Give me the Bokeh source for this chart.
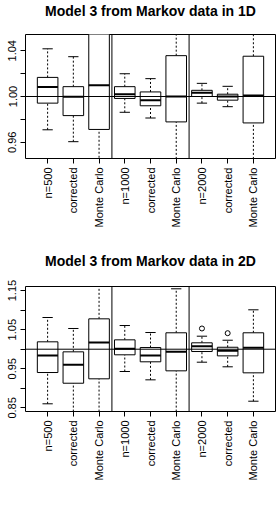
from bokeh.plotting import figure
from bokeh.layouts import column
from bokeh.models import Range1d, FixedTicker, Span, ColumnDataSource, Title
from bokeh.embed import file_html
from bokeh.resources import INLINE

labels = ["n=500", "corrected", "Monte Carlo", "n=1000", "corrected", "Monte Carlo",
          "n=2000", "corrected", "Monte Carlo"]
positions = [1, 2, 3, 4, 5, 6, 7, 8, 9]
separators = [3.5, 6.5]
ref_value = 1.0

# Panel 1: 1D
title1 = "Model 3 from Markov data in 1D"
lo1 = [0.9709, 0.9605, 0.88, 0.9862, 0.9812, 0.90, 0.9942, 0.9911, 0.90]
q1_1 = [0.9942, 0.9833, 0.9712, 0.9983, 0.9919, 0.9778, 1.0000, 0.9968, 0.9769]
med1 = [1.0084, 0.9997, 1.0098, 1.0020, 0.9968, 1.0000, 1.0032, 1.0000, 1.0009]
q3_1 = [1.0167, 1.0086, 1.065, 1.0086, 1.0040, 1.0357, 1.0054, 1.0020, 1.0352]
hi1 = [1.0417, 1.0348, 1.12, 1.0199, 1.0156, 1.10, 1.0115, 1.0089, 1.10]
out1_x = []
out1_y = []
yticks1 = [0.96, 0.98, 1.00, 1.02, 1.04]
ylabels1 = ["0.96", "", "1.00", "", "1.04"]
yrange1 = (0.9458, 1.0542)

# Panel 2: 2D
title2 = "Model 3 from Markov data in 2D"
lo2 = [0.8604, 0.82, 0.82, 0.9430, 0.9217, 0.82, 0.9668, 0.9550, 0.8670]
q1_2 = [0.9404, 0.9130, 0.9243, 0.9857, 0.9678, 0.9447, 0.9941, 0.9830, 0.9396]
med2 = [0.9839, 0.9600, 1.0171, 1.0010, 0.9839, 0.9933, 1.0077, 0.9959, 1.0036]
q3_2 = [1.0189, 0.9933, 1.0777, 1.0240, 1.0043, 1.0420, 1.0164, 1.0050, 1.0420]
hi2 = [1.0811, 1.0530, 1.20, 1.0606, 1.0427, 1.1545, 1.0333, 1.0230, 1.1008]
out2_x = [7, 8]
out2_y = [1.0530, 1.0410]
yticks2 = [0.85, 0.90, 0.95, 1.00, 1.05, 1.10, 1.15]
ylabels2 = ["0.85", "", "0.95", "", "1.05", "", "1.15"]
yrange2 = (0.8407, 1.1604)

FONT = "Liberation Sans"
XRANGE = (0.14, 9.86)


def make_panel(title, lo, q1, med, q3, hi, ox, oy, yticks, ylabels, yrange,
               height, top, bottom, spacer_size):
    p = figure(width=278, height=height, output_backend="svg", toolbar_location=None,
               x_range=Range1d(*XRANGE), y_range=Range1d(*yrange),
               min_border_left=25, min_border_right=3,
               min_border_top=top, min_border_bottom=bottom)
    # spacer (nearest to the frame) then the real title above it
    p.add_layout(Title(text=" ", text_font_size=spacer_size, standoff=0), "above")
    p.add_layout(Title(text=title, text_font=FONT, text_font_size="14px",
                       text_font_style="bold", align="center", text_color="black",
                       standoff=0), "above")
    p.xgrid.visible = False
    p.ygrid.visible = False
    p.outline_line_color = "black"
    p.outline_line_width = 1
    p.outline_line_alpha = 1
    p.background_fill_color = "white"

    src = ColumnDataSource(dict(x=positions, lo=lo, q1=q1, med=med, q3=q3, hi=hi,
                                x0=[x - 0.4 for x in positions], x1=[x + 0.4 for x in positions],
                                s0=[x - 0.2 for x in positions], s1=[x + 0.2 for x in positions]))
    # whiskers
    p.segment(x0="x", y0="q3", x1="x", y1="hi", source=src, line_color="black",
              line_width=1, line_dash="2 2")
    p.segment(x0="x", y0="lo", x1="x", y1="q1", source=src, line_color="black",
              line_width=1, line_dash="2 2")
    # staples
    p.segment(x0="s0", y0="hi", x1="s1", y1="hi", source=src, line_color="black", line_width=1)
    p.segment(x0="s0", y0="lo", x1="s1", y1="lo", source=src, line_color="black", line_width=1)
    # boxes
    p.quad(left="x0", right="x1", bottom="q1", top="q3", source=src,
           fill_color="white", line_color="black", line_width=1)
    # medians
    p.segment(x0="x0", y0="med", x1="x1", y1="med", source=src, line_color="black", line_width=2)
    # outliers
    if ox:
        p.scatter(ox, oy, marker="circle", size=5, fill_color=None, line_color="black",
                  line_width=1)

    for s in separators:
        p.add_layout(Span(location=s, dimension="height", line_color="black", line_width=1))
    p.add_layout(Span(location=ref_value, dimension="width", line_color="black", line_width=1))

    # axes
    xa = p.xaxis[0]
    xa.ticker = FixedTicker(ticks=positions)
    xa.major_label_overrides = {pos: lab for pos, lab in zip(positions, labels)}
    xa.major_label_orientation = 1.5707963267948966
    xa.axis_line_color = None
    xa.minor_tick_line_color = None
    xa.major_tick_out = 5
    xa.major_tick_in = 0
    xa.major_label_text_font = FONT
    xa.major_label_text_font_size = "11px"
    xa.major_label_text_color = "black"
    xa.major_label_standoff = 4

    ya = p.yaxis[0]
    ya.ticker = FixedTicker(ticks=yticks)
    ya.major_label_overrides = {t: l for t, l in zip(yticks, ylabels)}
    ya.major_label_orientation = "vertical"
    ya.axis_line_color = None
    ya.minor_tick_line_color = None
    ya.major_tick_out = 5
    ya.major_tick_in = 0
    ya.major_label_text_font = FONT
    ya.major_label_text_font_size = "11px"
    ya.major_label_text_color = "black"
    ya.major_label_standoff = 4
    return p


p1 = make_panel(title1, lo1, q1_1, med1, q3_1, hi1, out1_x, out1_y, yticks1, ylabels1,
                yrange1, 250, 32, 92, "12px")
p2 = make_panel(title2, lo2, q1_2, med2, q3_2, hi2, out2_x, out2_y, yticks2, ylabels2,
                yrange2, 256, 36, 95, "14px")

layout = column(p1, p2, spacing=0)
open("out.html", "w").write(file_html(layout, INLINE))
